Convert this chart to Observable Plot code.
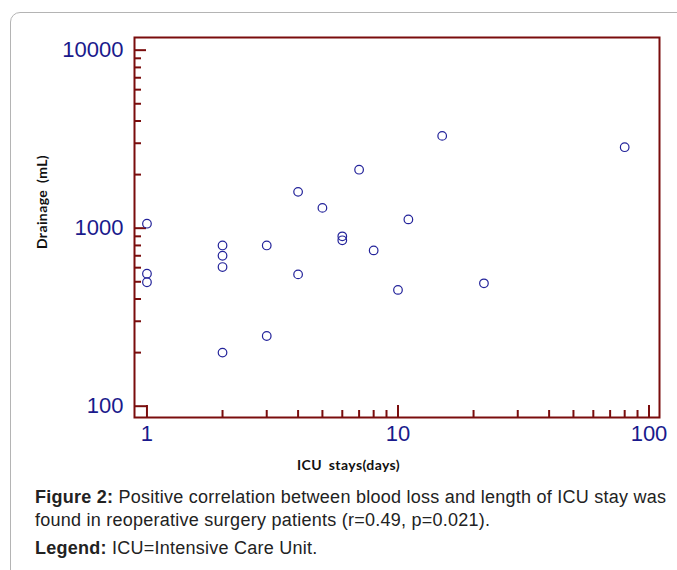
<!DOCTYPE html>
<html>
<head>
<meta charset="utf-8">
<script src="https://cdn.jsdelivr.net/npm/d3@7"></script>
<script src="https://cdn.jsdelivr.net/npm/@observablehq/plot@0.6"></script>
<style>
  html, body { margin: 0; padding: 0; background: #fff; }
  body { width: 677px; height: 570px; position: relative; overflow: hidden; }
  #box { position: absolute; left: 10px; top: 12px; width: 720px; height: 620px;
         border: 1px solid #b4b4b4; border-radius: 10px; box-sizing: border-box; }
  #chart { position: absolute; left: 0; top: 0; }
  #chart g[aria-label$="tick label"] { font-family: "Liberation Sans", Arial, sans-serif; font-size: 22px; }
  .axlabel { position: absolute; font-family: Lato, "Open Sans", sans-serif; font-weight: bold; font-size: 14px;
             letter-spacing: 0.4px; word-spacing: 3px; color: #111; white-space: nowrap; }
  #xlab { left: 297px; top: 456px; }
  #ylab { left: 41px; top: 202px; transform: translate(-50%, -50%) rotate(-90deg); }
  #caption { position: absolute; left: 35px; top: 486px; width: 642px;
             font-family: "Liberation Sans", Arial, sans-serif;
             font-size: 18px; letter-spacing: 0.25px; line-height: 23px; color: #222; }
  #caption p { margin: 0; }
  #caption p.legend { margin-top: 5px; }
</style>
</head>
<body>
<div id="box"></div>
<div id="chart"></div>
<div class="axlabel" id="xlab">ICU stays(days)</div>
<div class="axlabel" id="ylab">Drainage (mL)</div>
<div id="caption">
  <p><b>Figure 2:</b> Positive correlation between blood loss and length of ICU stay was found in reoperative surgery patients (r=0.49, p=0.021).</p>
  <p class="legend"><b>Legend:</b> ICU=Intensive Care Unit.</p>
</div>
<script>
// ICU stay (days) and drainage (mL)
const icuDays  = [1, 1, 1, 2, 2, 2, 2, 3, 3, 4, 4, 5, 6, 6, 7, 8, 10, 11, 15, 22, 80];
const drainage = [1060, 555, 497, 800, 700, 605, 200, 800, 248, 1600, 550, 1300, 900, 855, 2130, 750, 450, 1120, 3300, 490, 2850];

const xMajor = [1, 10, 100];
const xMinor = [2, 3, 4, 5, 6, 7, 8, 9, 20, 30, 40, 50, 60, 70, 80, 90];
const yMajor = [100, 1000, 10000];
const yMinor = [200, 300, 400, 500, 600, 700, 800, 900, 2000, 3000, 4000, 5000, 6000, 7000, 8000, 9000];

const data = icuDays.map((d, i) => ({days: d, drainage: drainage[i]}));

const W = 677, H = 480;
const mL = 134, mR = 18, mT = 37, mB = 63;
const innerW = W - mL - mR, innerH = H - mT - mB;
const majorLen = 12, minorLen = 7;
const axisColor = "#7a0d0d";
const textColor = "#1a1a8c";

const chart = Plot.plot({
  width: W,
  height: H,
  marginLeft: mL, marginRight: mR, marginTop: mT, marginBottom: mB,
  x: {type: "log", domain: [0.892, 110.1]},
  y: {type: "log", domain: [86.4, 11780]},
  marks: [
    Plot.tickX(xMajor, {x: d => d, stroke: axisColor, strokeWidth: 2, insetTop: innerH - majorLen}),
    Plot.tickX(xMinor, {x: d => d, stroke: axisColor, strokeWidth: 2, insetTop: innerH - minorLen}),
    Plot.tickY(yMajor, {y: d => d, stroke: axisColor, strokeWidth: 2, insetRight: innerW - majorLen}),
    Plot.tickY(yMinor, {y: d => d, stroke: axisColor, strokeWidth: 2, insetRight: innerW - minorLen}),
    Plot.frame({stroke: axisColor, strokeWidth: 2}),
    Plot.axisX({ticks: xMajor, tickSize: 0, tickPadding: 8, tickFormat: d => String(d), fill: textColor, label: null}),
    Plot.axisY({ticks: yMajor, tickSize: 0, tickPadding: 11, tickFormat: d => String(d), fill: textColor, label: null}),
    Plot.dot(data, {x: "days", y: "drainage", r: 4.3, stroke: "#23239a", strokeWidth: 1.2, fill: "none"})
  ]
});
document.getElementById("chart").appendChild(chart);
</script>
</body>
</html>
